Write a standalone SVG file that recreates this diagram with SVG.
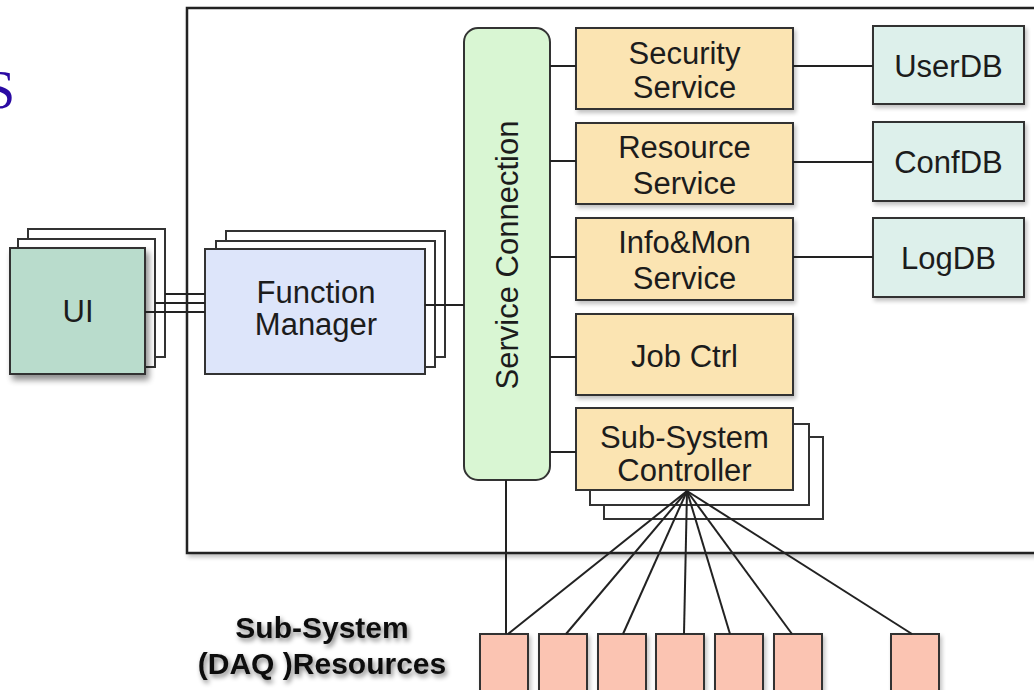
<svg xmlns="http://www.w3.org/2000/svg" width="1034" height="690" viewBox="0 0 1034 690">
  <defs>
    <filter id="shadow" x="-10%" y="-10%" width="130%" height="140%">
      <feGaussianBlur in="SourceAlpha" stdDeviation="3"/>
      <feOffset dx="3" dy="5" result="b"/>
      <feComponentTransfer><feFuncA type="linear" slope="0.45"/></feComponentTransfer>
      <feMerge><feMergeNode/><feMergeNode in="SourceGraphic"/></feMerge>
    </filter>
    <filter id="soft" x="-10%" y="-10%" width="130%" height="140%">
      <feGaussianBlur in="SourceAlpha" stdDeviation="2"/>
      <feOffset dx="2" dy="3" result="b"/>
      <feComponentTransfer><feFuncA type="linear" slope="0.25"/></feComponentTransfer>
      <feMerge><feMergeNode/><feMergeNode in="SourceGraphic"/></feMerge>
    </filter>
    <filter id="glow" x="-10%" y="-20%" width="120%" height="160%">
      <feGaussianBlur in="SourceAlpha" stdDeviation="2.5"/>
      <feOffset dx="2" dy="3" result="b"/>
      <feComponentTransfer><feFuncA type="linear" slope="0.5"/></feComponentTransfer>
      <feMerge><feMergeNode/><feMergeNode in="SourceGraphic"/></feMerge>
    </filter>
  </defs>
  <style>
    .box { stroke: #333; stroke-width: 2; }
    .back { fill: #fff; stroke: #333; stroke-width: 2; }
    .ui { fill: #b9dccc; }
    .fm { fill: #dde5fa; }
    .sc { fill: #d9f6d3; }
    .svc { fill: #fbe4b2; }
    .db { fill: #ddf0eb; }
    .res { fill: #fbc4b2; }
    .lbl { font-family: "Liberation Sans", Arial, sans-serif; font-size: 31px; fill: #1c1c1c; text-anchor: middle; }
    .note { font-family: "Liberation Sans", Arial, sans-serif; font-size: 30px; font-weight: bold; fill: #111; text-anchor: middle; }
    .wire { stroke: #222; stroke-width: 2; fill: none; }
  </style>

  <rect width="1034" height="690" fill="#fff"/>

  <!-- partial heading glyph at the left edge -->
  <text x="-15" y="108" font-family="'Liberation Serif', 'Times New Roman', serif" font-size="54" fill="#2a0aa3">S</text>

  <!-- system frame -->
  <rect id="frame" x="187" y="8" width="900" height="545" fill="#fff" stroke="#222" stroke-width="2.5" filter="url(#soft)"/>

  <!-- UI stack -->
  <g id="ui">
    <rect class="back" x="28" y="229" width="137" height="128"/>
    <rect class="back" x="18" y="239" width="137" height="128"/>
    <rect class="box ui" x="10" y="248" width="135" height="126" filter="url(#shadow)"/>
    <text class="lbl" x="78" y="322">UI</text>
  </g>

  <!-- Function Manager stack -->
  <g id="function-manager">
    <rect class="back" x="226" y="231" width="219" height="126"/>
    <rect class="back" x="216" y="241" width="219" height="126"/>
    <rect class="box fm" x="205" y="249" width="220" height="125"/>
    <text class="lbl" x="316" y="303">Function</text>
    <text class="lbl" x="316" y="335">Manager</text>
  </g>

  <!-- Service Connection bus -->
  <g id="service-connection">
    <rect class="box sc" x="464" y="28" width="86" height="452" rx="14"/>
    <text class="lbl" transform="translate(518,255) rotate(-90)">Service Connection</text>
  </g>

  <g id="security-service">
    <rect class="box svc" x="576" y="28" width="217" height="81" filter="url(#soft)"/>
    <text class="lbl" x="684.5" y="64">Security</text>
    <text class="lbl" x="684.5" y="98">Service</text>
  </g>
  <g id="resource-service">
    <rect class="box svc" x="576" y="123" width="217" height="81" filter="url(#soft)"/>
    <text class="lbl" x="684.5" y="158">Resource</text>
    <text class="lbl" x="684.5" y="194">Service</text>
  </g>
  <g id="infomon-service">
    <rect class="box svc" x="576" y="218" width="217" height="82" filter="url(#soft)"/>
    <text class="lbl" x="684.5" y="253">Info&amp;Mon</text>
    <text class="lbl" x="684.5" y="289">Service</text>
  </g>
  <g id="job-ctrl">
    <rect class="box svc" x="576" y="314" width="217" height="81" filter="url(#soft)"/>
    <text class="lbl" x="684.5" y="367">Job Ctrl</text>
  </g>
  <g id="subsystem-controller">
    <rect class="back" x="604" y="437" width="219" height="82"/>
    <rect class="back" x="590" y="424" width="219" height="81"/>
    <rect class="box svc" x="576" y="408" width="217" height="82"/>
    <text class="lbl" x="684.5" y="448">Sub-System</text>
    <text class="lbl" x="684.5" y="481">Controller</text>
  </g>

  <g id="userdb">
    <rect class="box db" x="873" y="26" width="151" height="78" filter="url(#soft)"/>
    <text class="lbl" x="948.5" y="77">UserDB</text>
  </g>
  <g id="confdb">
    <rect class="box db" x="873" y="122" width="151" height="79" filter="url(#soft)"/>
    <text class="lbl" x="948.5" y="173">ConfDB</text>
  </g>
  <g id="logdb">
    <rect class="box db" x="873" y="218" width="151" height="79" filter="url(#soft)"/>
    <text class="lbl" x="948.5" y="269">LogDB</text>
  </g>

  <!-- Sub-system (DAQ) resources -->
  <g id="resources" filter="url(#soft)">
    <rect class="box res" x="480" y="634" width="48" height="58"/>
    <rect class="box res" x="539" y="634" width="48" height="58"/>
    <rect class="box res" x="598" y="634" width="48" height="58"/>
    <rect class="box res" x="656" y="634" width="48" height="58"/>
    <rect class="box res" x="715" y="634" width="48" height="58"/>
    <rect class="box res" x="774" y="634" width="48" height="58"/>
    <rect class="box res" x="891" y="634" width="48" height="58"/>
  </g>

  <g id="resources-label" filter="url(#glow)">
    <text class="note" x="322" y="638">Sub-System</text>
    <text class="note" x="322" y="674">(DAQ )Resources</text>
  </g>

  <!-- connectors -->
  <g id="connectors" class="wire">
    <line x1="165" y1="294" x2="205" y2="294"/>
    <line x1="155" y1="303" x2="205" y2="303"/>
    <line x1="145" y1="312" x2="205" y2="312"/>
    <line x1="425" y1="305" x2="464" y2="305"/>
    <line x1="550" y1="66" x2="576" y2="66"/>
    <line x1="550" y1="161" x2="576" y2="161"/>
    <line x1="550" y1="257" x2="576" y2="257"/>
    <line x1="550" y1="357" x2="576" y2="357"/>
    <line x1="550" y1="452" x2="576" y2="452"/>
    <line x1="793" y1="66" x2="873" y2="66"/>
    <line x1="793" y1="162" x2="873" y2="162"/>
    <line x1="793" y1="257" x2="873" y2="257"/>
    <line x1="506" y1="480" x2="506" y2="634"/>
    <line x1="687" y1="491" x2="508" y2="634"/>
    <line x1="687" y1="491" x2="566" y2="634"/>
    <line x1="687" y1="491" x2="623" y2="634"/>
    <line x1="687" y1="491" x2="684" y2="634"/>
    <line x1="687" y1="491" x2="730" y2="634"/>
    <line x1="687" y1="491" x2="792" y2="634"/>
    <line x1="687" y1="491" x2="912" y2="634"/>
  </g>
</svg>
